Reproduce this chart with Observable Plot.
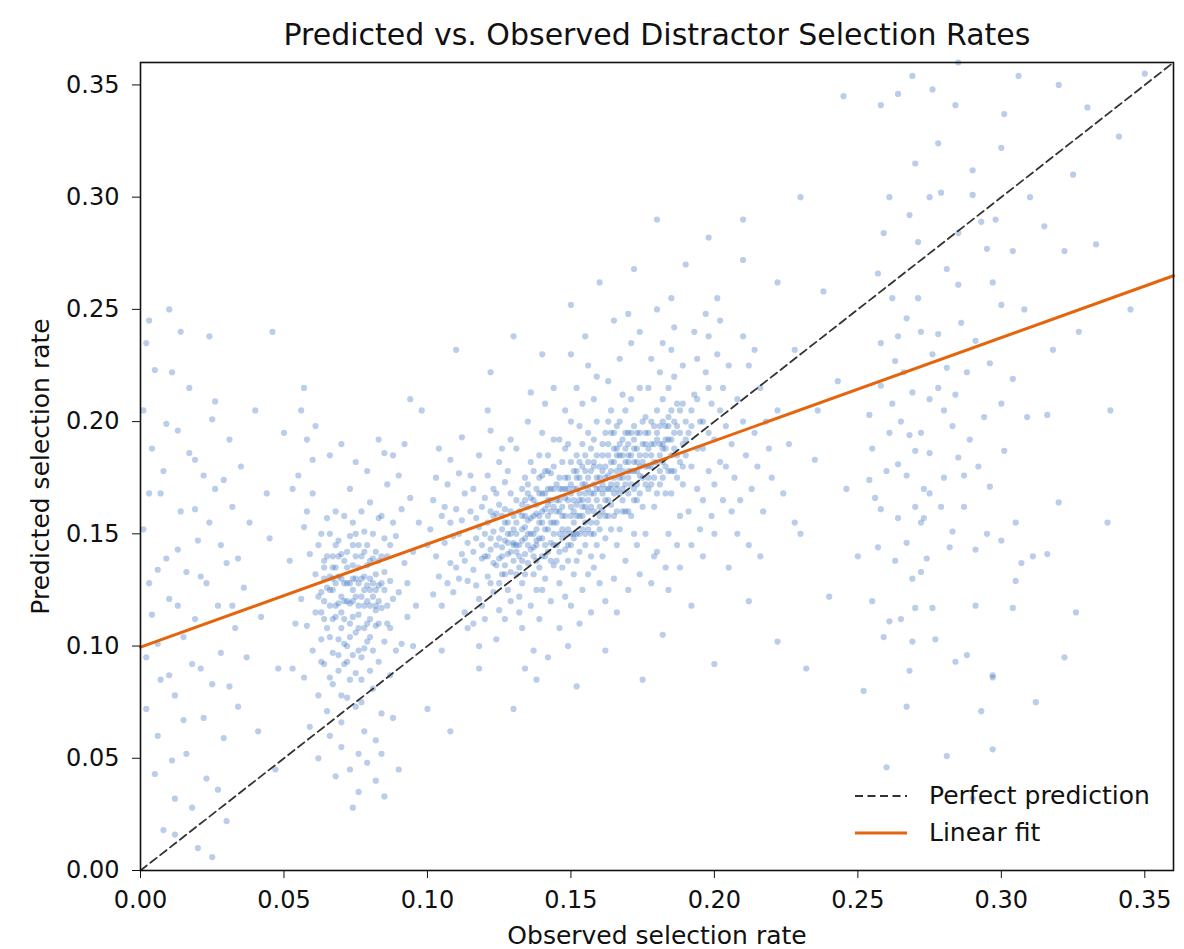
<!DOCTYPE html>
<html>
<head>
<meta charset="utf-8">
<script src="https://cdn.jsdelivr.net/npm/d3@7"></script>
<script src="https://cdn.jsdelivr.net/npm/@observablehq/plot@0.6"></script>
<style>
  html, body { margin: 0; padding: 0; background: #fff; }
  #wrap { position: relative; width: 1184px; height: 949px; font-family: "DejaVu Sans", sans-serif; }
  #legend { position: absolute; left: 850px; top: 777px; font-size: 25px; color: #111; }
  #legend .row { display: flex; align-items: center; height: 37px; }
  #legend svg { width: 62px; height: 10px; margin-right: 17px; }
</style>
</head>
<body>
<div id="wrap"></div>
<script>
const titleText = "Predicted vs. Observed Distractor Selection Rates";
const xLabel = "Observed selection rate";
const yLabel = "Predicted selection rate";
const tickValues = [0, 0.05, 0.10, 0.15, 0.20, 0.25, 0.30, 0.35];
const axisDomain = [0, 0.36];
const perfectLine = [[0, 0], [0.36, 0.36]];
const fitLine = [[0, 0.0995], [0.36, 0.265]];
const legendLabels = ["Perfect prediction", "Linear fit"];

const leftEdge = [
[0.002,0.235],[0.004,0.188],[0.001,0.152],[0.003,0.128],[0.006,0.101],[0.002,0.072],[0.005,0.043],[0.008,0.018],[0.001,0.205],[0.007,0.168],[0.009,0.139],[0.004,0.114],[0.010,0.087],[0.006,0.060],[0.012,0.032],[0.003,0.245],[0.011,0.222],[0.013,0.196],[0.008,0.178],[0.014,0.160],[0.010,0.121],[0.015,0.104],[0.012,0.078],[0.016,0.052],[0.018,0.028],[0.017,0.215],[0.019,0.183],[0.020,0.147],[0.021,0.131],[0.018,0.092],[0.022,0.068],[0.023,0.041],[0.020,0.010],[0.024,0.238],[0.025,0.201],[0.026,0.170],[0.024,0.155],[0.027,0.118],[0.028,0.097],[0.025,0.083],[0.029,0.059],[0.030,0.022],[0.031,0.192],[0.032,0.162],[0.030,0.137],[0.033,0.108],[0.034,0.073],[0.035,0.180],[0.036,0.126],[0.037,0.095],[0.005,0.223],[0.009,0.199],[0.013,0.143],[0.016,0.133],[0.007,0.085],[0.011,0.049],[0.019,0.112],[0.022,0.176],[0.026,0.209],[0.014,0.240],[0.028,0.145],[0.021,0.090],[0.003,0.168],[0.015,0.067],[0.027,0.036],[0.032,0.118],[0.038,0.155],[0.040,0.205],[0.042,0.113],[0.044,0.168],[0.041,0.062],[0.045,0.148],[0.012,0.016],[0.017,0.186],[0.023,0.128],[0.029,0.174],[0.006,0.134],[0.034,0.139],[0.010,0.250],[0.025,0.006],[0.002,0.095],[0.013,0.118],[0.019,0.161],[0.031,0.082]
];

const clusterLow = [
[0.056,0.205],[0.058,0.192],[0.055,0.176],[0.060,0.168],[0.057,0.153],[0.059,0.141],[0.061,0.132],[0.056,0.121],[0.058,0.109],[0.060,0.098],[0.057,0.086],[0.062,0.078],[0.059,0.064],[0.063,0.150],[0.064,0.138],[0.065,0.126],[0.063,0.115],[0.066,0.104],[0.064,0.092],[0.067,0.083],[0.065,0.071],[0.068,0.160],[0.069,0.147],[0.067,0.135],[0.070,0.122],[0.068,0.113],[0.071,0.101],[0.069,0.089],[0.072,0.077],[0.070,0.066],[0.073,0.170],[0.074,0.155],[0.072,0.142],[0.075,0.130],[0.073,0.119],[0.076,0.108],[0.074,0.096],[0.077,0.085],[0.075,0.073],[0.078,0.062],[0.076,0.052],[0.079,0.178],[0.080,0.164],[0.078,0.151],[0.081,0.139],[0.079,0.127],[0.082,0.116],[0.080,0.104],[0.083,0.093],[0.081,0.081],[0.084,0.070],[0.082,0.058],[0.085,0.186],[0.086,0.172],[0.084,0.158],[0.087,0.145],[0.085,0.133],[0.088,0.121],[0.086,0.110],[0.089,0.098],[0.087,0.087],[0.090,0.176],[0.091,0.161],[0.089,0.149],[0.092,0.137],[0.090,0.124],[0.093,0.113],[0.091,0.101],[0.094,0.166],[0.095,0.142],[0.093,0.128],
[0.062,0.145],[0.066,0.118],[0.071,0.128],[0.074,0.113],[0.077,0.122],[0.079,0.136],[0.083,0.127],[0.070,0.141],[0.067,0.097],[0.073,0.104],[0.078,0.099],[0.082,0.109],[0.086,0.140],[0.064,0.130],[0.069,0.119],[0.076,0.145],[0.080,0.118],[0.075,0.088],[0.072,0.093],[0.084,0.117],[0.061,0.115],[0.063,0.103],[0.068,0.128],[0.081,0.150],[0.077,0.160],[0.065,0.157],[0.071,0.158],[0.087,0.129],[0.074,0.136],[0.079,0.110],[0.066,0.086],[0.070,0.078],[0.075,0.122],[0.062,0.122],[0.085,0.102],[0.088,0.155],[0.060,0.183],[0.058,0.160],[0.063,0.093],[0.069,0.103],[0.073,0.149],[0.078,0.131],[0.082,0.142],[0.077,0.075],[0.080,0.089],[0.071,0.112],[0.067,0.140],[0.064,0.112],[0.076,0.114],[0.083,0.157],
[0.070,0.055],[0.073,0.045],[0.079,0.048],[0.082,0.040],[0.076,0.035],[0.066,0.060],[0.084,0.052],[0.088,0.068],[0.068,0.042],[0.074,0.028],[0.085,0.033],[0.062,0.050],
[0.057,0.215],[0.061,0.198],[0.066,0.185],[0.070,0.190],[0.075,0.182],[0.083,0.192],[0.088,0.185],[0.092,0.190],[0.053,0.170],[0.052,0.138],[0.054,0.110],[0.053,0.090],[0.096,0.118],[0.097,0.155],[0.095,0.100]
];

const clusterLowCore = [
[0.063,0.124],[0.065,0.140],[0.066,0.131],[0.067,0.112],[0.068,0.145],[0.069,0.131],[0.070,0.108],[0.071,0.138],[0.072,0.120],[0.073,0.128],[0.074,0.145],[0.075,0.106],[0.076,0.128],[0.077,0.140],[0.078,0.118],[0.079,0.102],[0.080,0.130],[0.081,0.122],[0.082,0.132],[0.083,0.110],[0.084,0.140],[0.085,0.125],[0.086,0.118],[0.087,0.108],[0.072,0.135],[0.074,0.125],[0.076,0.098],[0.078,0.142],[0.080,0.112],[0.082,0.125],[0.070,0.130],[0.068,0.118],[0.066,0.150],[0.064,0.120],[0.075,0.150],[0.077,0.095],[0.079,0.145],[0.081,0.098],[0.083,0.138],[0.085,0.148],[0.071,0.092],[0.073,0.085],[0.069,0.096],[0.067,0.125],[0.065,0.108],
[0.064,0.135],[0.066,0.125],[0.068,0.135],[0.070,0.115],[0.072,0.128],[0.074,0.120],[0.076,0.135],[0.078,0.125],[0.080,0.138],[0.082,0.118],[0.084,0.128],[0.073,0.110],[0.075,0.140],[0.077,0.130],[0.079,0.120],[0.081,0.128],[0.071,0.120],[0.069,0.140],[0.067,0.130],[0.083,0.120],[0.078,0.108],[0.072,0.100],[0.076,0.118],[0.080,0.125],[0.074,0.130]
];

const clusterMid = [
[0.101,0.152],[0.103,0.140],[0.102,0.165],[0.104,0.131],[0.105,0.158],[0.106,0.146],[0.107,0.172],[0.108,0.137],[0.109,0.124],[0.110,0.161],[0.111,0.150],[0.112,0.141],[0.113,0.168],[0.114,0.129],[0.105,0.118],[0.108,0.183],[0.111,0.177],[0.113,0.115],[0.103,0.175],[0.107,0.128],[0.110,0.135],[0.112,0.156],[0.114,0.146],[0.109,0.149],[0.106,0.162],[0.104,0.188],[0.112,0.193],[0.114,0.108],[0.102,0.123],[0.108,0.155],[0.111,0.130],[0.113,0.138],[0.115,0.160],[0.115,0.176],[0.100,0.145],
[0.116,0.134],[0.117,0.148],[0.118,0.121],[0.119,0.162],[0.120,0.140],[0.121,0.155],[0.122,0.128],[0.123,0.170],[0.124,0.145],[0.125,0.116],[0.126,0.158],[0.127,0.136],[0.128,0.178],[0.129,0.150],[0.116,0.170],[0.118,0.185],[0.120,0.112],[0.122,0.196],[0.124,0.103],[0.126,0.188],[0.128,0.125],[0.117,0.157],[0.119,0.139],[0.121,0.131],[0.123,0.151],[0.125,0.163],[0.127,0.147],[0.129,0.168],[0.116,0.142],[0.118,0.153],[0.120,0.166],[0.122,0.143],[0.124,0.159],[0.126,0.132],[0.128,0.141],[0.130,0.158],[0.117,0.127],[0.119,0.118],[0.121,0.176],[0.123,0.137],[0.125,0.148],[0.127,0.173],[0.129,0.133],[0.118,0.100],[0.121,0.205],[0.125,0.182],[0.127,0.112],[0.129,0.192],[0.123,0.124],[0.126,0.144],[0.120,0.150],[0.124,0.168],[0.128,0.155],[0.130,0.146],[0.122,0.160],[0.127,0.161],[0.119,0.145],[0.125,0.139],[0.129,0.120],[0.116,0.110],
[0.131,0.142],[0.132,0.160],[0.133,0.128],[0.134,0.175],[0.135,0.150],[0.136,0.118],[0.137,0.165],[0.138,0.138],[0.139,0.185],[0.140,0.155],[0.141,0.130],[0.142,0.170],[0.143,0.146],[0.144,0.192],[0.131,0.188],[0.133,0.108],[0.135,0.200],[0.137,0.098],[0.139,0.112],[0.141,0.208],[0.143,0.120],[0.132,0.135],[0.134,0.153],[0.136,0.143],[0.138,0.159],[0.140,0.168],[0.142,0.152],[0.144,0.162],[0.131,0.165],[0.133,0.147],[0.135,0.137],[0.137,0.178],[0.139,0.148],[0.141,0.161],[0.143,0.177],[0.145,0.155],[0.132,0.122],[0.134,0.132],[0.136,0.182],[0.138,0.125],[0.140,0.140],[0.142,0.185],[0.144,0.136],[0.131,0.155],[0.133,0.170],[0.135,0.162],[0.137,0.150],[0.139,0.168],[0.141,0.145],[0.143,0.160],[0.145,0.172],[0.134,0.090],[0.138,0.085],[0.142,0.095],[0.136,0.213],[0.140,0.195],[0.144,0.215],[0.132,0.115],[0.137,0.132],[0.139,0.175],[0.141,0.178],[0.143,0.138],[0.145,0.145],[0.135,0.172],[0.138,0.147],[0.140,0.125],[0.142,0.163],[0.144,0.180],[0.133,0.158],[0.136,0.157],
[0.146,0.160],[0.147,0.148],[0.148,0.175],[0.149,0.138],[0.150,0.168],[0.151,0.155],[0.152,0.185],[0.153,0.142],[0.154,0.172],[0.155,0.162],[0.156,0.195],[0.157,0.150],[0.158,0.180],[0.159,0.170],[0.146,0.128],[0.148,0.205],[0.150,0.118],[0.152,0.215],[0.154,0.125],[0.156,0.225],[0.158,0.135],[0.147,0.182],[0.149,0.165],[0.151,0.178],[0.153,0.158],[0.155,0.145],[0.157,0.188],[0.159,0.155],[0.146,0.150],[0.148,0.158],[0.150,0.145],[0.152,0.163],[0.154,0.190],[0.156,0.170],[0.158,0.160],[0.160,0.175],[0.147,0.135],[0.149,0.190],[0.151,0.132],[0.153,0.198],[0.155,0.178],[0.157,0.140],[0.159,0.200],[0.146,0.108],[0.149,0.100],[0.153,0.110],[0.157,0.115],[0.150,0.230],[0.155,0.238],[0.159,0.220],[0.147,0.170],[0.148,0.143],[0.150,0.182],[0.151,0.165],[0.152,0.150],[0.153,0.175],[0.154,0.158],[0.155,0.185],[0.156,0.152],[0.157,0.168],[0.158,0.192],[0.159,0.145],[0.160,0.162],[0.146,0.192],[0.148,0.122],[0.150,0.200],[0.152,0.138],[0.154,0.208],[0.156,0.132],[0.158,0.210],[0.160,0.128],[0.149,0.175],[0.151,0.148],[0.153,0.165],[0.155,0.155],
[0.161,0.178],[0.162,0.165],[0.163,0.190],[0.164,0.152],[0.165,0.182],[0.166,0.170],[0.167,0.200],[0.168,0.160],[0.169,0.188],[0.170,0.175],[0.171,0.210],[0.172,0.165],[0.173,0.195],[0.174,0.180],[0.161,0.140],[0.163,0.218],[0.165,0.130],[0.167,0.228],[0.169,0.138],[0.171,0.235],[0.173,0.145],[0.162,0.195],[0.164,0.172],[0.166,0.188],[0.168,0.178],[0.170,0.160],[0.172,0.198],[0.174,0.168],[0.161,0.160],[0.163,0.170],[0.165,0.158],[0.167,0.180],[0.169,0.205],[0.171,0.185],[0.173,0.172],[0.175,0.190],[0.162,0.148],[0.164,0.205],[0.166,0.145],[0.168,0.212],[0.170,0.195],[0.172,0.150],[0.174,0.215],[0.162,0.120],[0.166,0.115],[0.170,0.125],[0.174,0.132],[0.165,0.245],[0.170,0.248],[0.174,0.240],[0.161,0.185],[0.163,0.158],[0.165,0.195],[0.167,0.168],[0.169,0.172],[0.171,0.158],[0.173,0.182],[0.175,0.162],[0.168,0.192],[0.164,0.182],[0.166,0.160],[0.170,0.182],[0.172,0.178],[0.163,0.200],[0.167,0.152],
[0.176,0.185],[0.177,0.170],[0.178,0.200],[0.179,0.162],[0.180,0.192],[0.181,0.178],[0.182,0.210],[0.183,0.168],[0.184,0.198],[0.185,0.185],[0.186,0.220],[0.187,0.175],[0.188,0.205],[0.189,0.190],[0.176,0.150],[0.178,0.228],[0.180,0.142],[0.182,0.235],[0.184,0.150],[0.186,0.242],[0.188,0.158],[0.177,0.195],[0.179,0.182],[0.181,0.198],[0.183,0.188],[0.185,0.168],[0.187,0.208],[0.189,0.172],[0.176,0.172],[0.178,0.180],[0.180,0.168],[0.182,0.190],[0.184,0.215],[0.186,0.195],[0.188,0.182],[0.190,0.200],[0.177,0.215],[0.179,0.140],[0.181,0.222],[0.183,0.135],[0.185,0.232],[0.187,0.145],[0.189,0.225],[0.180,0.250],[0.185,0.255],[0.178,0.128],[0.184,0.125],[0.188,0.135],[0.182,0.175],[0.186,0.178],
[0.191,0.195],[0.192,0.180],[0.193,0.212],[0.194,0.170],[0.195,0.200],[0.196,0.188],[0.197,0.222],[0.198,0.178],[0.199,0.208],[0.200,0.192],[0.201,0.230],[0.202,0.182],[0.203,0.215],[0.204,0.198],[0.191,0.160],[0.193,0.240],[0.195,0.152],[0.197,0.248],[0.199,0.158],[0.201,0.255],[0.203,0.165],[0.192,0.205],[0.194,0.228],[0.196,0.165],[0.198,0.238],[0.200,0.172],[0.202,0.245],[0.204,0.180],[0.192,0.145],[0.196,0.140],[0.200,0.150],[0.194,0.188],[0.198,0.195],[0.202,0.205],[0.205,0.225],
[0.206,0.190],[0.207,0.175],[0.208,0.210],[0.209,0.165],[0.210,0.200],[0.211,0.185],[0.212,0.225],[0.213,0.170],[0.214,0.195],[0.215,0.180],[0.216,0.215],[0.217,0.160],[0.218,0.200],[0.219,0.188],[0.220,0.175],[0.222,0.205],[0.224,0.168],[0.226,0.190],[0.228,0.155],[0.208,0.150],[0.212,0.145],[0.216,0.140],[0.210,0.238],[0.214,0.232],[0.206,0.160]
];

const clusterMidCore = [
[0.122,0.148],[0.124,0.136],[0.126,0.152],[0.128,0.146],[0.130,0.138],[0.131,0.150],[0.132,0.145],[0.133,0.163],[0.134,0.141],[0.135,0.156],[0.136,0.166],[0.137,0.144],[0.138,0.170],[0.139,0.158],[0.140,0.148],[0.141,0.168],[0.142,0.142],[0.143,0.155],[0.144,0.170],[0.145,0.160],[0.146,0.175],[0.147,0.158],[0.148,0.166],[0.149,0.152],[0.150,0.172],[0.151,0.160],[0.152,0.178],[0.153,0.150],[0.154,0.165],[0.155,0.172],[0.156,0.160],[0.157,0.178],[0.158,0.168],[0.159,0.185],[0.160,0.170],[0.161,0.168],[0.162,0.180],[0.163,0.176],[0.164,0.163],[0.165,0.188],[0.166,0.178],[0.167,0.190],[0.168,0.170],[0.169,0.182],[0.170,0.190],[0.171,0.172],[0.172,0.188],[0.173,0.178],[0.174,0.195],[0.175,0.182],[0.176,0.195],[0.177,0.180],[0.178,0.190],[0.179,0.198],[0.180,0.182],[0.181,0.190],[0.182,0.200],[0.183,0.180],[0.184,0.192],[0.185,0.205],[0.186,0.188],[0.187,0.198],[0.188,0.195],[0.189,0.208],[0.190,0.185],
[0.121,0.140],[0.123,0.158],[0.125,0.128],[0.127,0.155],[0.129,0.142],[0.131,0.132],[0.133,0.138],[0.135,0.145],[0.137,0.158],[0.139,0.135],[0.141,0.152],[0.143,0.165],[0.145,0.138],[0.147,0.162],[0.149,0.145],[0.151,0.170],[0.153,0.182],[0.155,0.150],[0.157,0.162],[0.159,0.175],[0.161,0.172],[0.163,0.185],[0.165,0.168],[0.167,0.175],[0.169,0.160],[0.171,0.195],[0.173,0.188],[0.175,0.175],[0.177,0.188],[0.179,0.175],[0.181,0.185],[0.183,0.198],[0.185,0.192],[0.187,0.185],[0.189,0.180],[0.140,0.176],[0.144,0.150],[0.148,0.188],[0.152,0.170],[0.156,0.182],[0.160,0.152],[0.164,0.195],[0.168,0.185],[0.172,0.170],[0.176,0.202],[0.180,0.205],[0.184,0.178],[0.134,0.165],[0.138,0.152],[0.142,0.178],[0.146,0.142],[0.150,0.158],[0.154,0.180],[0.158,0.150],[0.162,0.158],[0.166,0.198],[0.170,0.168],[0.174,0.185],[0.178,0.172],[0.182,0.182],[0.186,0.200],[0.190,0.192],[0.192,0.198],[0.194,0.210],[0.196,0.200],[0.198,0.215],
[0.126,0.140],[0.128,0.150],[0.130,0.152],[0.132,0.140],[0.134,0.158],[0.136,0.150],[0.138,0.163],[0.140,0.160],[0.142,0.158],[0.144,0.145],[0.146,0.165],[0.148,0.150],[0.150,0.162],[0.152,0.175],[0.154,0.162],[0.156,0.175],[0.158,0.172],[0.160,0.180],[0.162,0.170],[0.164,0.178],[0.166,0.185],[0.168,0.175],[0.170,0.185],[0.172,0.192],[0.174,0.176],[0.176,0.190],[0.178,0.185],[0.180,0.195],[0.182,0.188],[0.184,0.202],[0.127,0.132],[0.129,0.160],[0.131,0.145],[0.133,0.152],[0.135,0.168],[0.137,0.140],[0.139,0.155],[0.141,0.140],[0.143,0.170],[0.145,0.165],[0.147,0.152],[0.149,0.170],[0.151,0.150],[0.153,0.168],[0.155,0.168],[0.157,0.155],[0.159,0.165],[0.161,0.190],[0.163,0.165],[0.165,0.175],[0.167,0.185],[0.169,0.195],[0.171,0.178],[0.173,0.165],[0.175,0.200],[0.177,0.175],[0.179,0.190],[0.181,0.172],[0.183,0.192],[0.185,0.178],[0.144,0.155],[0.148,0.170],[0.152,0.158],[0.156,0.165],[0.160,0.158],[0.164,0.170],[0.168,0.165],[0.172,0.182],[0.150,0.150],[0.154,0.152],[0.158,0.182],[0.162,0.175],[0.166,0.172],[0.170,0.178],[0.146,0.170],[0.142,0.165],[0.138,0.145],[0.134,0.148],[0.130,0.145],[0.176,0.180]
];

const clusterHigh = [
[0.272,0.240],[0.268,0.194],[0.280,0.175],[0.273,0.157],[0.270,0.117],[0.267,0.073],[0.281,0.051],[0.297,0.054],[0.293,0.071],[0.297,0.087],[0.326,0.115],[0.320,0.164],[0.345,0.250],[0.333,0.279],[0.341,0.327],[0.330,0.340],[0.315,0.287],[0.301,0.337],[0.306,0.354],[0.269,0.354],[0.264,0.346],[0.258,0.341],[0.284,0.341],[0.278,0.324],[0.270,0.315],[0.261,0.300],[0.275,0.300],[0.279,0.302],[0.290,0.301],[0.285,0.284],[0.298,0.290],[0.293,0.289],[0.259,0.284],[0.271,0.280],[0.295,0.277],[0.304,0.276],[0.322,0.276],[0.257,0.266],[0.285,0.261],[0.271,0.255],[0.300,0.252],[0.308,0.250],[0.267,0.246],[0.258,0.235],[0.264,0.238],[0.278,0.239],[0.291,0.236],[0.318,0.232],[0.263,0.227],[0.281,0.224],[0.296,0.226],[0.304,0.219],[0.258,0.216],[0.269,0.213],[0.275,0.210],[0.284,0.212],[0.300,0.208],[0.254,0.203],[0.280,0.205],[0.294,0.202],[0.309,0.202],[0.316,0.203],[0.261,0.195],[0.272,0.195],[0.289,0.192],[0.255,0.188],[0.275,0.186],[0.301,0.187],[0.264,0.181],[0.285,0.184],[0.292,0.180],[0.254,0.174],[0.267,0.176],[0.287,0.176],[0.296,0.171],[0.256,0.166],[0.275,0.168],[0.270,0.162],[0.287,0.162],[0.279,0.162],[0.258,0.161],[0.305,0.155],[0.264,0.157],[0.272,0.155],[0.283,0.151],[0.295,0.150],[0.257,0.144],[0.267,0.146],[0.282,0.144],[0.291,0.143],[0.300,0.147],[0.263,0.138],[0.274,0.139],[0.307,0.137],[0.311,0.140],[0.316,0.141],[0.269,0.130],[0.272,0.133],[0.305,0.129],[0.261,0.111],[0.265,0.112],[0.276,0.117],[0.291,0.118],[0.304,0.117],[0.259,0.104],[0.269,0.102],[0.277,0.103],[0.284,0.093],[0.288,0.096],[0.268,0.089],[0.297,0.086],
[0.266,0.222],[0.276,0.230],[0.262,0.208],[0.283,0.198],[0.270,0.187],[0.260,0.178],[0.278,0.215],[0.288,0.222],[0.265,0.200],[0.273,0.170],[0.286,0.244],[0.262,0.255],[0.297,0.262],[0.281,0.268],[0.268,0.292],[0.290,0.312],[0.276,0.348],[0.300,0.322],[0.310,0.300],[0.325,0.310]
];

const scattered = [
[0.205,0.135],[0.230,0.150],[0.240,0.122],[0.235,0.183],[0.222,0.102],[0.190,0.270],[0.172,0.268],[0.210,0.272],[0.243,0.218],[0.246,0.170],[0.160,0.262],[0.122,0.222],[0.110,0.232],[0.098,0.205],[0.200,0.092],[0.182,0.105],[0.232,0.090],[0.150,0.252],[0.130,0.072],[0.152,0.082],[0.198,0.282],[0.222,0.262],[0.238,0.258],[0.250,0.140],[0.228,0.232],[0.236,0.205],[0.212,0.120],[0.192,0.118],[0.162,0.098],[0.118,0.090],[0.105,0.098],[0.046,0.240],[0.050,0.195],[0.048,0.090],[0.047,0.045],[0.100,0.072],[0.108,0.062],[0.090,0.045],[0.094,0.210],[0.210,0.290],[0.338,0.205],[0.350,0.355],[0.320,0.350],[0.327,0.240],[0.337,0.155],[0.312,0.075],[0.322,0.095],[0.285,0.360],[0.245,0.345],[0.180,0.290],[0.230,0.300],[0.255,0.120],[0.252,0.080],[0.175,0.085],[0.140,0.230],[0.130,0.238],[0.260,0.046],[0.290,0.032]
];

const points = [...leftEdge, ...clusterLow, ...clusterLowCore, ...clusterMid, ...clusterMidCore, ...clusterHigh, ...scattered]
  .map(([observed, predicted]) => ({observed, predicted}));

const fmt = d3.format(".2f");

const chart = Plot.plot({
  width: 1184,
  height: 949,
  marginLeft: 140,
  marginRight: 11,
  marginTop: 62,
  marginBottom: 79,
  style: {fontFamily: "DejaVu Sans, sans-serif", fontSize: "24px", color: "#111", background: "#fff"},
  x: {domain: axisDomain, label: null},
  y: {domain: axisDomain, label: null},
  marks: [
    Plot.dot(points, {x: "observed", y: "predicted", r: 3.1, fill: "#3570c2", fillOpacity: 0.34, stroke: "none"}),
    Plot.line(perfectLine, {x: d => d[0], y: d => d[1], stroke: "#333", strokeWidth: 1.8, strokeDasharray: "8,4.5"}),
    Plot.line(fitLine, {x: d => d[0], y: d => d[1], stroke: "#e4650c", strokeWidth: 3}),
    Plot.frame({stroke: "#111", strokeWidth: 1.6}),
    Plot.axisX({ticks: tickValues, tickFormat: fmt, tickSize: 8, tickPadding: 12, fontSize: 24, label: null, stroke: "#111"}),
    Plot.axisY({ticks: tickValues, tickFormat: fmt, tickSize: 8, tickPadding: 13, fontSize: 24, label: null, stroke: "#111"}),
    Plot.text([titleText], {frameAnchor: "top", lineAnchor: "middle", dy: -27, fontSize: 30, fill: "#111"}),
    Plot.text([xLabel], {frameAnchor: "bottom", lineAnchor: "middle", dy: 65, fontSize: 25, fill: "#111"}),
    Plot.text([yLabel], {frameAnchor: "left", textAnchor: "middle", lineAnchor: "middle", dx: -100, rotate: -90, fontSize: 25, fill: "#111"})
  ]
});

const wrap = document.getElementById("wrap");
wrap.appendChild(chart);

const legend = document.createElement("div");
legend.id = "legend";
const legendStyles = [
  {stroke: "#333", width: 1.8, dash: "8,4.5"},
  {stroke: "#e4650c", width: 3, dash: null}
];
legendLabels.forEach((label, i) => {
  const row = document.createElement("div");
  row.className = "row";
  const s = legendStyles[i];
  row.innerHTML = `<svg viewBox="0 0 62 10"><line x1="5" y1="5" x2="57" y2="5" stroke="${s.stroke}" stroke-width="${s.width}" ${s.dash ? `stroke-dasharray="${s.dash}"` : ""}/></svg><span>${label}</span>`;
  legend.appendChild(row);
});
wrap.appendChild(legend);
</script>
</body>
</html>
